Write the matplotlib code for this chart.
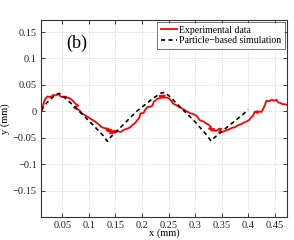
import matplotlib
matplotlib.use('Agg')
import matplotlib.pyplot as plt

# experimental trace (x, y in mm)
exp_x = [0.012, 0.014, 0.017, 0.022, 0.028, 0.033, 0.038, 0.043, 0.046, 0.049, 0.055, 0.060,
         0.065, 0.070, 0.074, 0.080, 0.072, 0.076, 0.082, 0.087, 0.094, 0.100, 0.108, 0.114,
         0.120, 0.124, 0.130, 0.137, 0.133, 0.142, 0.136, 0.145, 0.140, 0.150, 0.145, 0.155,
         0.160, 0.166, 0.172, 0.178, 0.182, 0.187, 0.191, 0.195, 0.197, 0.203, 0.206, 0.210,
         0.216, 0.220, 0.222, 0.226, 0.229, 0.234, 0.239, 0.233, 0.243, 0.238, 0.247, 0.251,
         0.255, 0.258, 0.264, 0.270, 0.276, 0.281, 0.286, 0.292, 0.298, 0.302, 0.306, 0.309,
         0.315, 0.321, 0.326, 0.330, 0.326, 0.336, 0.330, 0.340, 0.345, 0.349, 0.345, 0.354,
         0.358, 0.364, 0.370, 0.375, 0.381, 0.387, 0.392, 0.397, 0.401, 0.405, 0.409, 0.412,
         0.418, 0.415, 0.425, 0.428, 0.431, 0.434, 0.439, 0.444, 0.449, 0.453, 0.456, 0.460,
         0.463, 0.470, 0.478]
exp_y = [0.002, 0.012, 0.022, 0.028, 0.027, 0.031, 0.030, 0.033, 0.029, 0.027, 0.028, 0.026,
         0.024, 0.020, 0.015, 0.011, 0.007, 0.005, 0.002, -0.004, -0.008, -0.012, -0.017, -0.021,
         -0.026, -0.030, -0.032, -0.033, -0.036, -0.035, -0.038, -0.039, -0.042, -0.040, -0.037, -0.038,
         -0.039, -0.035, -0.033, -0.030, -0.026, -0.022, -0.017, -0.012, -0.004, -0.003, 0.003, 0.008,
         0.009, 0.011, 0.018, 0.021, 0.024, 0.025, 0.027, 0.029, 0.030, 0.026, 0.026, 0.024,
         0.020, 0.015, 0.012, 0.008, 0.005, 0.002, -0.001, -0.004, -0.006, -0.008, -0.013, -0.017,
         -0.019, -0.023, -0.026, -0.030, -0.033, -0.034, -0.036, -0.037, -0.033, -0.033, -0.040, -0.038,
         -0.036, -0.034, -0.031, -0.030, -0.026, -0.024, -0.021, -0.019, -0.017, -0.012, -0.008, -0.001,
         -0.003, 0.000, -0.001, 0.005, 0.011, 0.020, 0.019, 0.022, 0.020, 0.022, 0.017, 0.016,
         0.014, 0.013, 0.011]

# particle-based simulation
sim_x = [0.010, 0.020, 0.030, 0.038, 0.044, 0.050, 0.070, 0.090, 0.110, 0.127, 0.135, 0.140,
         0.160, 0.190, 0.220, 0.235, 0.242, 0.250, 0.270, 0.300, 0.320, 0.330, 0.336, 0.360,
         0.385, 0.400]
sim_y = [0.002, 0.015, 0.025, 0.031, 0.034, 0.030, 0.012, -0.008, -0.028, -0.046, -0.057, -0.050,
         -0.030, 0.000, 0.024, 0.034, 0.036, 0.030, 0.010, -0.020, -0.043, -0.056, -0.050, -0.030,
         -0.010, 0.003]

xticks = [0.05, 0.1, 0.15, 0.2, 0.25, 0.3, 0.35, 0.4, 0.45]
yticks = [-0.15, -0.1, -0.05, 0, 0.05, 0.1, 0.15]

plt.rcParams['font.family'] = ['Liberation Serif', 'DejaVu Serif']

fig = plt.figure(figsize=(2.94, 2.4), dpi=100)
ax = fig.add_axes([0.1395, 0.096, 0.837, 0.821])

ax.plot(exp_x, exp_y, color='red', lw=1.3, label='Experimental data')
ax.plot(sim_x, sim_y, color='black', lw=1.2, linestyle=(0, (2.5, 2)),
        label='Particle\u2212based simulation')

ax.set_xlim(0.01, 0.473)
ax.set_ylim(-0.2, 0.173)
ax.set_xticks(xticks)
ax.set_xticklabels([f'{t:g}' for t in xticks])
ax.set_yticks(yticks)
ax.set_yticklabels([f'{t:g}'.replace('-', '\u2212') for t in yticks])
ax.tick_params(direction='in', length=3, width=0.6, labelsize=7.5, top=True, right=True,
               colors='#222222', pad=3)
ax.grid(True, linestyle=':', color='#c8c8c8', lw=0.6)
for s in ax.spines.values():
    s.set_linewidth(0.8)
    s.set_color('#333333')

ax.set_xlabel('x (mm)', fontsize=7.5, labelpad=-1)
ax.set_ylabel('y (mm)', fontsize=7.5, labelpad=2)
ax.text(0.078, 0.128, '(b)', fontsize=13, ha='center', va='center')

leg = ax.legend(loc='upper right', bbox_to_anchor=(1.0, 1.0), fontsize=7, frameon=True,
                fancybox=False, borderpad=0.35, handlelength=1.7, handletextpad=0.2,
                labelspacing=0.15, borderaxespad=0.25)
leg.get_frame().set_edgecolor('#333333')
leg.get_frame().set_linewidth(0.6)

fig.savefig('out.png', dpi=100)
